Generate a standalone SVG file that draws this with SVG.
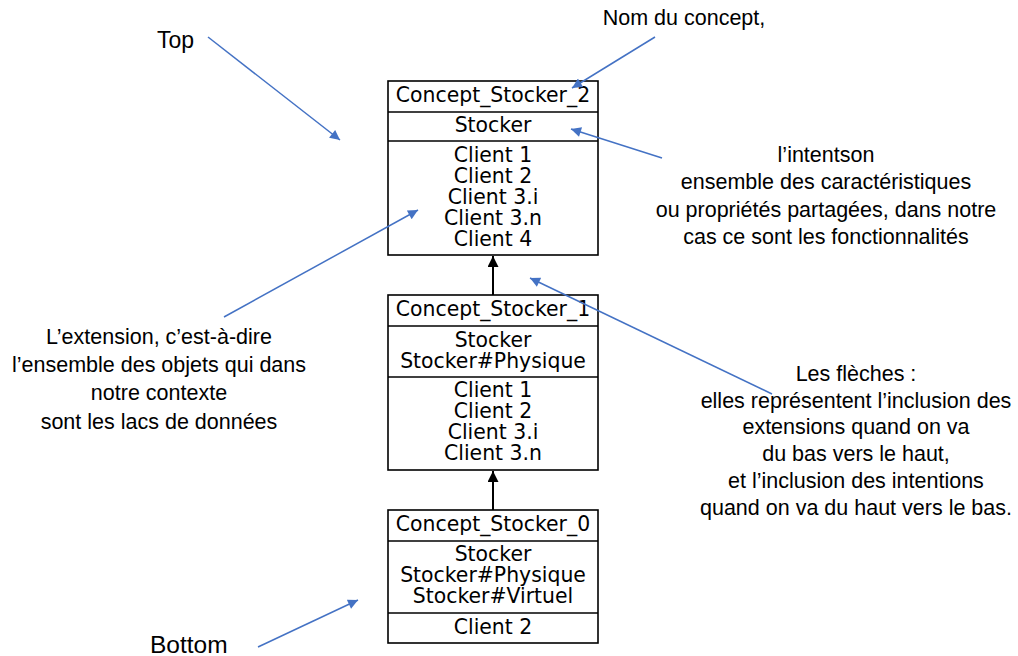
<svg xmlns="http://www.w3.org/2000/svg" width="1018" height="656" viewBox="0 0 1018 656">
<defs>
<style>
.box{fill:#fff;stroke:#000;stroke-width:1.6}
.div{stroke:#000;stroke-width:1.6}
.bt{font-family:"DejaVu Sans",sans-serif;font-size:20.4px;fill:#000;text-anchor:middle}
.an{font-family:"Liberation Sans",Arial,sans-serif;font-size:21.5px;fill:#000;text-anchor:middle}
.lbl{font-family:"Liberation Sans",Arial,sans-serif;font-size:23px;fill:#000}
.blue{stroke:#4472C4;stroke-width:1.5;fill:none;marker-end:url(#bh)}
.edge{stroke:#000;stroke-width:2;fill:none;marker-end:url(#kh)}
</style>
<marker id="bh" viewBox="0 0 10 10" refX="10" refY="5" markerWidth="12" markerHeight="10" markerUnits="userSpaceOnUse" orient="auto">
<path d="M0,0 L10,5 L0,10 z" fill="#4472C4"/>
</marker>
<marker id="kh" viewBox="0 0 10 10" refX="10" refY="5" markerWidth="13" markerHeight="11" markerUnits="userSpaceOnUse" orient="auto">
<path d="M0,0 L10,5 L0,10 z" fill="#000"/>
</marker>
</defs>
<rect width="1018" height="656" fill="#fff"/>

<g id="connectors">
<line class="edge" x1="493" y1="295" x2="493" y2="256"/>
<line class="edge" x1="493" y1="510" x2="493" y2="471"/>
</g>

<g id="concept2">
<rect class="box" x="388" y="81" width="210" height="174"/>
<line class="div" x1="388" y1="112" x2="598" y2="112"/>
<line class="div" x1="388" y1="141" x2="598" y2="141"/>
<text class="bt" x="493" y="102">Concept_Stocker_2</text>
<text class="bt" x="493" y="132">Stocker</text>
<text class="bt" x="493" y="162">Client 1</text>
<text class="bt" x="493" y="183">Client 2</text>
<text class="bt" x="493" y="204">Client 3.i</text>
<text class="bt" x="493" y="225">Client 3.n</text>
<text class="bt" x="493" y="246">Client 4</text>
</g>

<g id="concept1">
<rect class="box" x="388" y="295" width="210" height="175"/>
<line class="div" x1="388" y1="326" x2="598" y2="326"/>
<line class="div" x1="388" y1="377" x2="598" y2="377"/>
<text class="bt" x="493" y="316">Concept_Stocker_1</text>
<text class="bt" x="493" y="347">Stocker</text>
<text class="bt" x="493" y="368">Stocker#Physique</text>
<text class="bt" x="493" y="397">Client 1</text>
<text class="bt" x="493" y="418">Client 2</text>
<text class="bt" x="493" y="439">Client 3.i</text>
<text class="bt" x="493" y="460">Client 3.n</text>
</g>

<g id="concept0">
<rect class="box" x="388" y="510" width="210" height="133"/>
<line class="div" x1="388" y1="541" x2="598" y2="541"/>
<line class="div" x1="388" y1="613" x2="598" y2="613"/>
<text class="bt" x="493" y="531">Concept_Stocker_0</text>
<text class="bt" x="493" y="561">Stocker</text>
<text class="bt" x="493" y="582">Stocker#Physique</text>
<text class="bt" x="493" y="603">Stocker#Virtuel</text>
<text class="bt" x="493" y="634">Client 2</text>
</g>

<g id="annotations">
<text class="lbl" x="157" y="48">Top</text>
<text class="lbl" x="150" y="653" style="font-size:24.5px">Bottom</text>
<text class="an" x="684" y="25">Nom du concept,</text>
<text class="an" x="826" y="162">l’intentson</text>
<text class="an" x="826" y="189">ensemble des caractéristiques</text>
<text class="an" x="826" y="217">ou propriétés partagées, dans notre</text>
<text class="an" x="826" y="244">cas ce sont les fonctionnalités</text>
<text class="an" x="159" y="344">L’extension, c’est-à-dire</text>
<text class="an" x="159" y="372">l’ensemble des objets qui dans</text>
<text class="an" x="159" y="400">notre contexte</text>
<text class="an" x="159" y="429">sont les lacs de données</text>
<text class="an" x="856" y="381">Les flèches :</text>
<text class="an" x="856" y="408">elles représentent l’inclusion des</text>
<text class="an" x="856" y="434">extensions quand on va</text>
<text class="an" x="856" y="461">du bas vers le haut,</text>
<text class="an" x="856" y="488">et l’inclusion des intentions</text>
<text class="an" x="856" y="515">quand on va du haut vers le bas.</text>
</g>

<g id="pointers">
<line class="blue" x1="208" y1="37" x2="340" y2="140"/>
<line class="blue" x1="655" y1="37" x2="572" y2="88"/>
<line class="blue" x1="662" y1="158" x2="571" y2="129"/>
<line class="blue" x1="224" y1="317" x2="418" y2="210"/>
<line class="blue" x1="772" y1="394" x2="530" y2="278"/>
<line class="blue" x1="258" y1="647" x2="358" y2="600"/>
</g>
</svg>
